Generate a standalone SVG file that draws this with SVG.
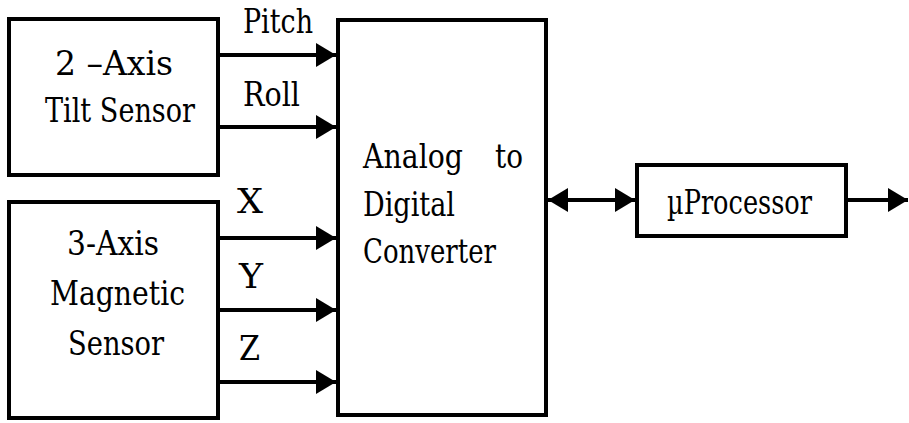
<svg xmlns="http://www.w3.org/2000/svg" width="909" height="423" viewBox="0 0 909 423">
<defs>
<style>
.box{fill:#fff;stroke:#000;stroke-width:4}
.ln{stroke:#000;stroke-width:4;fill:none}
</style>
<marker id="ah" viewBox="0 0 20 24" refX="20" refY="12" markerWidth="20" markerHeight="24" markerUnits="userSpaceOnUse" orient="auto-start-reverse">
<path d="M0,0 L20,12 L0,24 Z" fill="#000"/>
</marker>
</defs>
<rect width="909" height="423" fill="#fff"/>
<g font-family="'DejaVu Serif', serif" font-size="33" fill="#000">
<g id="tilt">
<rect class="box" x="9" y="19" width="209" height="156"/>
<text x="55" y="75" textLength="118" lengthAdjust="spacingAndGlyphs">2 –Axis</text>
<text x="45" y="122" textLength="150" lengthAdjust="spacingAndGlyphs">Tilt Sensor</text>
</g>
<g id="magnetic">
<rect class="box" x="9" y="202" width="209" height="216"/>
<text x="67" y="255" textLength="92" lengthAdjust="spacingAndGlyphs">3-Axis</text>
<text x="50" y="305" textLength="135" lengthAdjust="spacingAndGlyphs">Magnetic</text>
<text x="68" y="355" textLength="96" lengthAdjust="spacingAndGlyphs">Sensor</text>
</g>
<g id="adc">
<rect class="box" x="338" y="20" width="208" height="395"/>
<text x="363" y="168" textLength="100" lengthAdjust="spacingAndGlyphs">Analog</text>
<text x="495" y="168" textLength="28" lengthAdjust="spacingAndGlyphs">to</text>
<text x="363" y="216" textLength="92" lengthAdjust="spacingAndGlyphs">Digital</text>
<text x="363" y="263" textLength="133" lengthAdjust="spacingAndGlyphs">Converter</text>
</g>
<g id="processor">
<rect class="box" x="637" y="165" width="209" height="71"/>
<text x="667" y="214" textLength="145" lengthAdjust="spacingAndGlyphs">µProcessor</text>
</g>
<g id="connectors">
<line class="ln" x1="220" y1="55" x2="336" y2="55" marker-end="url(#ah)"/>
<line class="ln" x1="220" y1="127" x2="336" y2="127" marker-end="url(#ah)"/>
<line class="ln" x1="220" y1="238" x2="336" y2="238" marker-end="url(#ah)"/>
<line class="ln" x1="220" y1="310" x2="336" y2="310" marker-end="url(#ah)"/>
<line class="ln" x1="220" y1="382" x2="336" y2="382" marker-end="url(#ah)"/>
<line class="ln" x1="548" y1="200" x2="635" y2="200" marker-start="url(#ah)" marker-end="url(#ah)"/>
<line class="ln" x1="848" y1="200" x2="908" y2="200" marker-end="url(#ah)"/>
<text x="243" y="33" textLength="70" lengthAdjust="spacingAndGlyphs">Pitch</text>
<text x="243" y="106" textLength="57" lengthAdjust="spacingAndGlyphs">Roll</text>
<text x="237" y="213" textLength="26" lengthAdjust="spacingAndGlyphs">X</text>
<text x="239" y="288" textLength="24" lengthAdjust="spacingAndGlyphs">Y</text>
<text x="239" y="360" textLength="21" lengthAdjust="spacingAndGlyphs">Z</text>
</g>
</g>
</svg>
